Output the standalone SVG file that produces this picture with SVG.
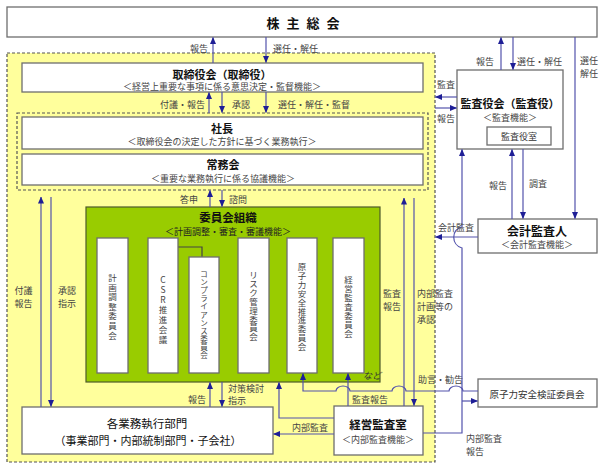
<svg xmlns="http://www.w3.org/2000/svg" width="612" height="470" viewBox="0 0 612 470">
<defs>
<marker id="ah" markerWidth="7" markerHeight="6" refX="6.5" refY="3" orient="auto" markerUnits="userSpaceOnUse"><path d="M0,0 L7,3 L0,6 z" fill="#1e1e96"/></marker>
<style>
text{font-family:"Noto Sans CJK JP","Noto Sans",sans-serif;fill:#333}
.box{fill:#fff;stroke:#6e6e6e;stroke-width:1.3}
.dash{fill:#ffff9c;stroke:#555;stroke-width:1.2;stroke-dasharray:3 2}
.dash2{fill:none;stroke:#555;stroke-width:1.2;stroke-dasharray:3 2}
.ttl{font-weight:bold;fill:#111;text-anchor:middle}
.sub{font-size:9px;text-anchor:middle;fill:#444}
.lbl{font-size:9px;fill:#444}
.mid{text-anchor:middle}
.c{fill:none;stroke:#5252ac;stroke-width:1.2}
.a{marker-end:url(#ah)}
.v{font-size:8.5px;text-anchor:middle;fill:#444}
</style>
</defs>
<rect width="612" height="470" fill="#fff"/>

<g id="exec-area">
<rect class="dash" x="7" y="53" width="428" height="409"/>
<rect class="dash2" x="17" y="113" width="411" height="77"/>
</g>

<g id="shareholders">
<rect class="box" x="7" y="7" width="590" height="30"/>
<text class="ttl" x="303" y="27.5" font-size="13" word-spacing="4">株 主 総 会</text>
</g>

<g id="board">
<rect class="box" x="22" y="63" width="401" height="29"/>
<text class="ttl" x="222" y="79" font-size="11">取締役会（取締役）</text>
<text class="sub" x="222" y="90">＜経営上重要な事項に係る意思決定・監督機能＞</text>
</g>

<g id="president">
<rect class="box" x="22" y="117" width="401" height="32"/>
<text class="ttl" x="222" y="133" font-size="11">社長</text>
<text class="sub" x="222" y="145">＜取締役会の決定した方針に基づく業務執行＞</text>
</g>

<g id="managing">
<rect class="box" x="22" y="154" width="401" height="31"/>
<text class="ttl" x="223" y="169" font-size="11">常務会</text>
<text class="sub" x="223" y="182">＜重要な業務執行に係る協議機能＞</text>
</g>

<g id="committees">
<rect x="86" y="207" width="294" height="175" fill="#99cc00" stroke="#4d5a2a" stroke-width="1.2"/>
<text class="ttl" x="228" y="222" font-size="11.5">委員会組織</text>
<text class="sub" x="228" y="235" style="fill:#222">＜計画調整・審査・審議機能＞</text>
<text x="372" y="379" font-size="9" font-style="italic" class="mid" style="fill:#333">など</text>
</g>

<g id="c-plan">
<rect class="box" x="97" y="238" width="31" height="135"/>
<text class="v"><tspan x="112.5" y="281">計</tspan><tspan x="112.5" dy="9.6">画</tspan><tspan x="112.5" dy="9.6">調</tspan><tspan x="112.5" dy="9.6">整</tspan><tspan x="112.5" dy="9.6">委</tspan><tspan x="112.5" dy="9.6">員</tspan><tspan x="112.5" dy="9.6">会</tspan></text>
</g>
<g id="c-csr">
<path d="M178,247 H202 V257" fill="none" stroke="#444" stroke-width="1.2"/>
<rect class="box" x="148" y="238" width="30" height="135"/>
<text class="v"><tspan x="163" y="283">C</tspan><tspan x="163" dy="10">S</tspan><tspan x="163" dy="10">R</tspan><tspan x="163" dy="10">推</tspan><tspan x="163" dy="10">進</tspan><tspan x="163" dy="10">会</tspan><tspan x="163" dy="10">議</tspan></text>
</g>
<g id="c-compliance">
<rect class="box" x="189" y="257" width="30" height="116"/>
<text class="v" style="font-size:7.5px"><tspan x="204" y="277">コ</tspan><tspan x="204" dy="8.1">ン</tspan><tspan x="204" dy="8.1">プ</tspan><tspan x="204" dy="8.1">ラ</tspan><tspan x="204" dy="8.1">イ</tspan><tspan x="204" dy="8.1">ア</tspan><tspan x="204" dy="8.1">ン</tspan><tspan x="204" dy="8.1">ス</tspan><tspan x="204" dy="8.1">委</tspan><tspan x="204" dy="8.1">員</tspan><tspan x="204" dy="8.1">会</tspan></text>
</g>
<g id="c-risk">
<rect class="box" x="238" y="238" width="31" height="135"/>
<text class="v"><tspan x="253.5" y="278">リ</tspan><tspan x="253.5" dy="8.9">ス</tspan><tspan x="253.5" dy="8.9">ク</tspan><tspan x="253.5" dy="8.9">管</tspan><tspan x="253.5" dy="8.9">理</tspan><tspan x="253.5" dy="8.9">委</tspan><tspan x="253.5" dy="8.9">員</tspan><tspan x="253.5" dy="8.9">会</tspan></text>
</g>
<g id="c-nuclear">
<rect class="box" x="287" y="238" width="30" height="135"/>
<text class="v"><tspan x="302" y="270">原</tspan><tspan x="302" dy="8.9">子</tspan><tspan x="302" dy="8.9">力</tspan><tspan x="302" dy="8.9">安</tspan><tspan x="302" dy="8.9">全</tspan><tspan x="302" dy="8.9">推</tspan><tspan x="302" dy="8.9">進</tspan><tspan x="302" dy="8.9">委</tspan><tspan x="302" dy="8.9">員</tspan><tspan x="302" dy="8.9">会</tspan></text>
</g>
<g id="c-audit">
<rect class="box" x="333" y="238" width="31" height="135"/>
<text class="v"><tspan x="348.5" y="283">経</tspan><tspan x="348.5" dy="9">営</tspan><tspan x="348.5" dy="9">監</tspan><tspan x="348.5" dy="9">査</tspan><tspan x="348.5" dy="9">委</tspan><tspan x="348.5" dy="9">員</tspan><tspan x="348.5" dy="9">会</tspan></text>
</g>

<g id="divisions">
<rect class="box" x="22" y="407" width="251" height="47"/>
<text class="mid" x="147" y="428" font-size="11.5" style="fill:#111">各業務執行部門</text>
<text class="mid" x="148" y="445" font-size="11" style="fill:#111">（事業部門・内部統制部門・子会社）</text>
</g>

<g id="internal-audit">
<rect class="box" x="334" y="406" width="89" height="49"/>
<text class="ttl" x="378" y="429" font-size="11.5">経営監査室</text>
<text class="sub" x="378" y="443">＜内部監査機能＞</text>
</g>

<g id="auditors">
<rect class="box" x="457" y="70" width="106" height="79"/>
<text class="ttl" x="510" y="108" font-size="11">監査役会（監査役）</text>
<text class="sub" x="510" y="121">＜監査機能＞</text>
<rect class="box" x="487" y="127" width="64" height="18"/>
<text class="mid" x="519" y="140" font-size="9" style="fill:#333">監査役室</text>
</g>

<g id="accounting-auditor">
<rect class="box" x="478" y="219" width="119" height="34"/>
<text class="ttl" x="537" y="236" font-size="12">会計監査人</text>
<text class="sub" x="537" y="248">＜会計監査機能＞</text>
</g>

<g id="nuclear-verify">
<rect class="box" x="478" y="379" width="119" height="28"/>
<text class="mid" x="537" y="398" font-size="9.5" style="fill:#333">原子力安全検証委員会</text>
</g>

<g id="connectors">
<path class="c a" d="M213,63 V37.5"/>
<path class="c a" d="M266,37 V62.5"/>
<path class="c a" d="M209,113 V92.5"/>
<path class="c a" d="M222,92 V112.5"/>
<path class="c a" d="M266,92 V112.5"/>
<path class="c a" d="M210,207 V190.5"/>
<path class="c a" d="M222,190 V206.5"/>
<path class="c a" d="M41,407 V197"/>
<path class="c a" d="M51,197 V406.5"/>
<path class="c a" d="M210,407 V382.5"/>
<path class="c a" d="M222,382 V406.5"/>
<path class="c a" d="M334,434 H273.5"/>
<path class="c a" d="M334,418 H279 V382.5"/>
<path class="c a" d="M348,406 V373.5"/>
<path class="c a" d="M478,391 H463 A7,5 0 0 0 449,391 H406 A7,5 0 0 0 392,391 H350 A7,5 0 0 0 336,391 H303 V373.5"/>
<path class="c a" d="M404,406 V198"/>
<path class="c a" d="M414,198 V405.5"/>
<path class="c a" d="M423,433 H462 V248 C451,245 451,229 462,227 V149.5"/>
<path class="c a" d="M462,401 H477.5"/>
<path class="c a" d="M478,237 H435.5"/>
<path class="c a" d="M457,97 H435.5"/>
<path class="c a" d="M435,108 H456.5"/>
<path class="c a" d="M501,70 V37.5"/>
<path class="c a" d="M513,37 V69.5"/>
<path class="c a" d="M575,37 V218.5"/>
<path class="c a" d="M512,219 V149.5"/>
<path class="c a" d="M523,149 V218.5"/>
</g>

<g id="labels">
<text class="lbl" x="190" y="52">報告</text>
<text class="lbl" x="273" y="52">選任・解任</text>
<text class="lbl" x="160" y="108">付議・報告</text>
<text class="lbl" x="232" y="108">承認</text>
<text class="lbl" x="278" y="108">選任・解任・監督</text>
<text class="lbl" x="180" y="203">答申</text>
<text class="lbl" x="229" y="203">諮問</text>
<text class="lbl mid" x="23.5" y="294">付議</text>
<text class="lbl mid" x="23.5" y="307">報告</text>
<text class="lbl mid" x="67" y="294">承認</text>
<text class="lbl mid" x="67" y="307">指示</text>
<text class="lbl" x="188" y="403">報告</text>
<text class="lbl" x="228" y="392">対策検討</text>
<text class="lbl" x="228" y="404">指示</text>
<text class="lbl" x="292" y="431">内部監査</text>
<text class="lbl" x="352" y="403">監査報告</text>
<text class="lbl mid" x="392" y="297">監査</text>
<text class="lbl mid" x="392" y="310">報告</text>
<text class="lbl" x="417" y="297">内部監査</text>
<text class="lbl" x="417" y="310">計画等の</text>
<text class="lbl" x="417" y="323">承認</text>
<text class="lbl" x="418" y="383">助言・勧告</text>
<text class="lbl" x="466" y="442">内部監査</text>
<text class="lbl" x="466" y="455">報告</text>
<text class="lbl" x="438" y="231">会計監査</text>
<text class="lbl" x="437" y="88">監査</text>
<text class="lbl" x="437" y="122">報告</text>
<text class="lbl" x="476" y="65">報告</text>
<text class="lbl" x="517" y="65">選任・解任</text>
<text class="lbl mid" x="589" y="64">選任</text>
<text class="lbl mid" x="589" y="77">解任</text>
<text class="lbl" x="489" y="189">報告</text>
<text class="lbl" x="529" y="187">調査</text>
</g>
</svg>
